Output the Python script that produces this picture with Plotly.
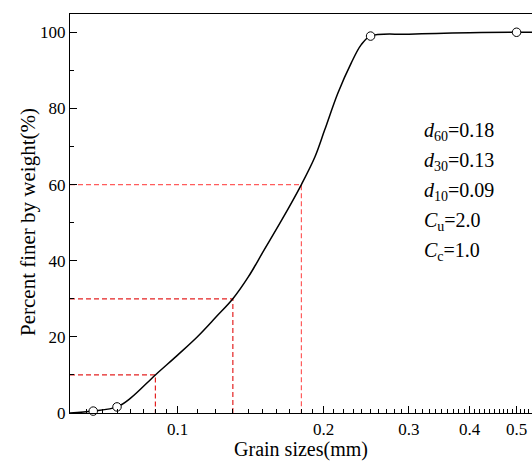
import plotly.graph_objects as go
import numpy as np

# ---- data ----
curve_x = [0.06, 0.067, 0.075, 0.08, 0.09, 0.1, 0.11, 0.12, 0.13, 0.14, 0.15,
           0.164, 0.18, 0.192, 0.201, 0.214, 0.228, 0.239, 0.25, 0.3, 0.4, 0.5, 0.54]
curve_y = [0, 0.5, 1.6, 3.9, 10, 15.2, 20.1, 25.2, 30, 35.8, 42.3,
           50.7, 60, 67.3, 74.3, 84, 91.9, 96.7, 99, 99.5, 99.9, 100, 100]

sample_x = [0.067, 0.075, 0.25, 0.5]
sample_y = [0.5, 1.6, 99, 100]

d_sizes = [0.09, 0.13, 0.18]
d_percent = [10, 30, 60]
d_colors = ["#e42222", "#e42222", "#ff5c5c"]

x_tick_vals = [0.1, 0.2, 0.3, 0.4, 0.5]
x_tick_text = ["0.1", "0.2", "0.3", "0.4", "0.5"]
y_tick_vals = [0, 20, 40, 60, 80, 100]
y_minor_vals = [10, 30, 50, 70, 90]

param_lines = [
    "<i>d</i><sub>60</sub>=0.18",
    "<i>d</i><sub>30</sub>=0.13",
    "<i>d</i><sub>10</sub>=0.09",
    "<i>C</i><sub>u</sub>=2.0",
    "<i>C</i><sub>c</sub>=1.0",
]

X_MIN, X_MAX = 0.06, 0.538
Y_MIN, Y_MAX = 0, 104.8

FONT = "Liberation Serif"

fig = go.Figure()

# dashed guide lines
for d, p, c in zip(d_sizes, d_percent, d_colors):
    fig.add_trace(go.Scatter(
        x=[X_MIN, d, d], y=[p, p, Y_MIN], mode="lines",
        line=dict(color=c, width=1.2, dash="5px,3px"),
        hoverinfo="skip", showlegend=False))

# smooth curve
fig.add_trace(go.Scatter(
    x=curve_x, y=curve_y, mode="lines",
    line=dict(color="black", width=1.5, shape="spline", smoothing=1.0),
    showlegend=False))

# sample points
fig.add_trace(go.Scatter(
    x=sample_x, y=sample_y, mode="markers",
    marker=dict(symbol="circle", size=8.5, color="white",
                line=dict(color="black", width=1)),
    showlegend=False, cliponaxis=False))

# minor tick positions (styling)
minor_x = [round(v, 3) for v in np.arange(0.065, 0.0999, 0.005)]
minor_x += [round(v, 3) for v in np.arange(0.11, 0.535, 0.01)
            if round(v, 3) not in (0.2, 0.3, 0.4, 0.5)]

# invisible trace to carry the minor-tick overlay axes
fig.add_trace(go.Scatter(x=[X_MIN], y=[Y_MIN], xaxis="x2", yaxis="y2",
                         mode="markers", marker=dict(opacity=0),
                         hoverinfo="skip", showlegend=False))

common = dict(showgrid=False, zeroline=False)
fig.update_layout(
    xaxis=dict(
        type="log", range=[np.log10(X_MIN), np.log10(X_MAX)],
        tickmode="array", tickvals=x_tick_vals, ticktext=x_tick_text,
        ticks="inside", ticklen=7, tickwidth=1.3, tickcolor="black",
        showline=True, linecolor="black", linewidth=1.2, mirror=True,
        tickfont=dict(family=FONT, size=17, color="black"),
        title=dict(text="Grain sizes(mm)",
                   font=dict(family=FONT, size=20, color="black"), standoff=3),
        **common),
    yaxis=dict(
        range=[Y_MIN, Y_MAX], tickmode="array", tickvals=y_tick_vals,
        ticks="inside", ticklen=7, tickwidth=1.3, tickcolor="black",
        showline=True, linecolor="black", linewidth=1.2, mirror=False,
        tickfont=dict(family=FONT, size=17, color="black"),
        **common),
    xaxis2=dict(
        type="log", range=[np.log10(X_MIN), np.log10(X_MAX)],
        overlaying="x", anchor="y", side="bottom",
        tickmode="array", tickvals=minor_x, showticklabels=False,
        ticks="inside", ticklen=4, tickwidth=1.2, tickcolor="black",
        showline=False, **common),
    yaxis2=dict(
        range=[Y_MIN, Y_MAX], overlaying="y", anchor="x", side="left",
        tickmode="array", tickvals=y_minor_vals, showticklabels=False,
        ticks="inside", ticklen=4, tickwidth=1.2, tickcolor="black",
        showline=False, **common),
)

annotations = []
for i, t in enumerate(param_lines):
    annotations.append(dict(
        text=t, xref="paper", yref="paper",
        x=(422 - 70) / 462, y=(413 - (131.7 + 30 * i)) / 399,
        xanchor="left", yanchor="middle", showarrow=False,
        font=dict(family=FONT, size=20, color="black")))
annotations.append(dict(
    text="Percent finer by weight(%)", xref="paper", yref="paper",
    x=(28 - 70) / 462, y=(413 - 222) / 399, textangle=-90,
    xanchor="center", yanchor="middle", showarrow=False,
    font=dict(family=FONT, size=21, color="black")))

fig.update_layout(
    width=532, height=461,
    margin=dict(l=70, r=0, t=14, b=48),
    paper_bgcolor="white", plot_bgcolor="white",
    showlegend=False,
    annotations=annotations,
)

fig.write_html("out.html")
